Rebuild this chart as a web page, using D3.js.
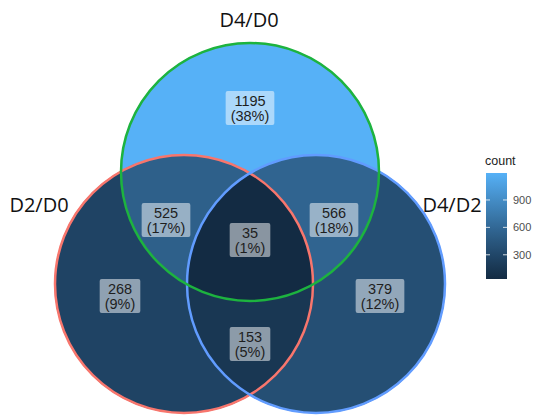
<!DOCTYPE html>
<html>
<head>
<meta charset="utf-8">
<script src="https://cdn.jsdelivr.net/npm/d3@7"></script>
<style>
  body { margin: 0; background: #fff; }
  svg { display: block; }
</style>
</head>
<body>
<svg id="chart" width="533" height="419"></svg>
<script>
// set names and the region counts
var setNames = ["D2/D0", "D4/D0", "D4/D2"];
var setColors = ["#F8766D", "#1DB33F", "#619CFF"];
// regions: which sets each region is inside (index into setNames)
var regionSets = [[0], [1], [2], [0, 1], [1, 2], [0, 2], [0, 1, 2]];
var regionCounts = [268, 1195, 379, 525, 566, 153, 35];
var regionPcts = ["9%", "38%", "12%", "17%", "18%", "5%", "1%"];
var legendTicks = [300, 600, 900];

var width = 533, height = 419;
var svg = d3.select("#chart");
var defs = svg.append("defs");

// circle layout
var r = 129;
var circles = [
  {x: 184, y: 284},
  {x: 250, y: 172},
  {x: 316, y: 284}
];
// label anchor points, same order as regionSets
var labelPos = [
  {x: 120, y: 296}, {x: 250, y: 108}, {x: 380, y: 296},
  {x: 166, y: 220}, {x: 334, y: 220}, {x: 250, y: 344},
  {x: 250, y: 240}
];

var color = d3.scaleLinear()
  .domain(d3.extent(regionCounts))
  .range(["#132B43", "#56B1F7"])
  .interpolate(d3.interpolateLab);

circles.forEach(function (c, i) {
  defs.append("clipPath").attr("id", "clip" + i)
    .append("circle").attr("cx", c.x).attr("cy", c.y).attr("r", r);
});

// one mask per region to cut away the circles it is not in
regionSets.forEach(function (inside, k) {
  var m = defs.append("mask").attr("id", "mask" + k);
  m.append("rect").attr("width", width).attr("height", height).attr("fill", "#fff");
  circles.forEach(function (c, i) {
    if (inside.indexOf(i) < 0) {
      m.append("circle").attr("cx", c.x).attr("cy", c.y).attr("r", r).attr("fill", "#000");
    }
  });
});

var regionLayer = svg.append("g");
regionSets.forEach(function (inside, k) {
  var g = regionLayer.append("g").attr("mask", "url(#mask" + k + ")");
  inside.slice(1).forEach(function (i) {
    g = g.append("g").attr("clip-path", "url(#clip" + i + ")");
  });
  var c = circles[inside[0]];
  g.append("circle")
    .attr("cx", c.x).attr("cy", c.y).attr("r", r + 0.6)
    .attr("fill", color(regionCounts[k]));
});

// edges: red, blue, then green on top
[0, 2, 1].forEach(function (i) {
  svg.append("circle")
    .attr("cx", circles[i].x).attr("cy", circles[i].y).attr("r", r)
    .attr("fill", "none")
    .attr("stroke", setColors[i])
    .attr("stroke-width", 2.5);
});

var labelLayer = svg.append("g");
regionSets.forEach(function (inside, k) {
  var g = labelLayer.append("g")
    .attr("transform", "translate(" + labelPos[k].x + "," + labelPos[k].y + ")");
  var box = g.append("rect").attr("fill", "#fff").attr("fill-opacity", 0.5)
    .attr("rx", 2).attr("ry", 2);
  var t = g.append("text")
    .attr("text-anchor", "middle")
    .attr("font-family", "Liberation Sans, Arial, sans-serif")
    .attr("font-size", 14.5)
    .attr("fill", "#1e1e1e");
  t.append("tspan").attr("x", 0).attr("y", -2.5).text(regionCounts[k]);
  t.append("tspan").attr("x", 0).attr("y", 12.5).text("(" + regionPcts[k] + ")");
  var w = t.node().getBBox().width + 10;
  box.attr("x", -w / 2).attr("y", -17).attr("width", w).attr("height", 34);
});

// set names
var titlePos = [
  {x: 39, y: 212},
  {x: 249, y: 27},
  {x: 452, y: 212}
];
setNames.forEach(function (name, i) {
  svg.append("text")
    .attr("x", titlePos[i].x).attr("y", titlePos[i].y)
    .attr("text-anchor", "middle")
    .attr("font-family", "Open Sans, sans-serif")
    .attr("font-size", 20)
    .attr("fill", "#111")
    .text(name);
});

// colour bar legend
var barX = 486, barW = 21, barTop = 173, barBottom = 279;
var ly = d3.scaleLinear().domain(d3.extent(regionCounts)).range([barBottom, barTop]);
var grad = defs.append("linearGradient").attr("id", "countGrad")
  .attr("x1", 0).attr("y1", 1).attr("x2", 0).attr("y2", 0);
d3.range(0, 1.0001, 0.05).forEach(function (t) {
  grad.append("stop").attr("offset", t)
    .attr("stop-color", color(ly.invert(barBottom - t * (barBottom - barTop))));
});
var legend = svg.append("g");
legend.append("text")
  .attr("x", barX - 1).attr("y", 165)
  .attr("font-family", "Liberation Sans, Arial, sans-serif")
  .attr("font-size", 12.5)
  .attr("fill", "#222")
  .text("count");
legend.append("rect")
  .attr("x", barX).attr("y", barTop)
  .attr("width", barW).attr("height", barBottom - barTop)
  .attr("fill", "url(#countGrad)");
legendTicks.forEach(function (v) {
  var y = ly(v);
  legend.append("line").attr("x1", barX).attr("x2", barX + 4)
    .attr("y1", y).attr("y2", y).attr("stroke", "#fff").attr("stroke-opacity", 0.8);
  legend.append("line").attr("x1", barX + barW - 4).attr("x2", barX + barW)
    .attr("y1", y).attr("y2", y).attr("stroke", "#fff").attr("stroke-opacity", 0.8);
  legend.append("text")
    .attr("x", barX + barW + 6).attr("y", y + 4)
    .attr("font-family", "Liberation Sans, Arial, sans-serif")
    .attr("font-size", 11)
    .attr("fill", "#4d4d4d")
    .text(v);
});
</script>
</body>
</html>
